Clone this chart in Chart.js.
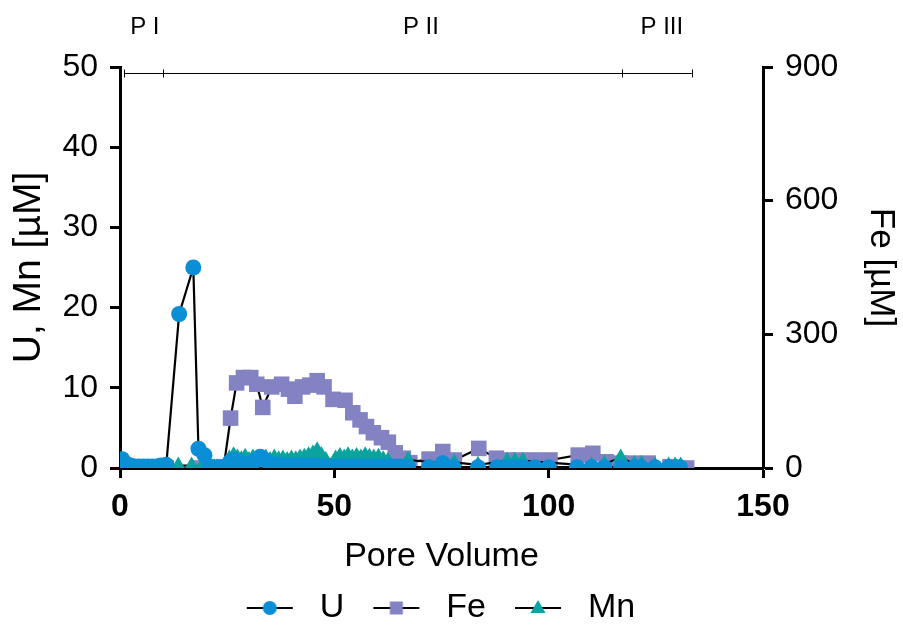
<!DOCTYPE html>
<html>
<head>
<meta charset="utf-8">
<script src="https://cdn.jsdelivr.net/npm/chart.js@4.4.0/dist/chart.umd.min.js"></script>
<style>
  html, body { margin: 0; padding: 0; background: #fff; }
</style>
</head>
<body>
<canvas id="chartPV" width="903" height="627"></canvas>
<script>
// pore volume vs concentration; U and Mn on left axis, Fe on right axis (all µM)
const uPV = [0.5, 1.5, 2.5, 3.5, 4.5, 5.5, 6.5, 7.5, 8.5, 9.5, 10.8,
  13.8, 17.1, 18.3, 19.7, 21.0, 22.6, 24.0,
  25.7, 26.8, 28.0, 29.2, 30.3, 31.5, 32.7, 33.8, 35.0, 36.2, 37.3, 38.5, 39.7, 40.8, 42.0, 43.2, 44.3, 45.5, 46.7, 47.8,
  49.8, 51.0, 52.2, 53.4, 54.6, 55.8, 57.0, 58.2, 59.4, 60.6, 61.8, 63.0, 64.2, 65.4, 67.2,
  72.1, 75.3, 77.7, 83.5, 88.0, 90.3, 92.1, 94.0, 96.8, 100.0, 106.6, 110.0, 113.0, 116.9, 120.0, 121.5, 124.8, 128.0, 130.6];
const uVal = [1.1, 0.5, 0.3, 0.2, 0.2, 0.2, 0.2, 0.2, 0.2, 0.3, 0.4,
  19.2, 25.0, 2.4, 1.6, 0.2, 0.1, 0.1,
  0.8, 1.0, 0.7, 0.5, 0.4, 0.9, 1.4, 1.0, 0.6, 0.4, 0.4, 0.3, 0.3, 0.3, 0.3, 0.3, 0.3, 0.3, 0.2, 0.2,
  0.2, 0.2, 0.2, 0.2, 0.2, 0.2, 0.2, 0.2, 0.2, 0.2, 0.2, 0.2, 0.2, 0.2, 0.1,
  0.1, 0.6, 0.1, 0.1, 0.1, 0.1, 0.1, 0.1, 0.1, 0.1, 0.1, 0.1, 0.1, 0.1, 0.1, 0.1, 0.1, 0.1, 0.1];

const fePV = [0.5, 5.0, 10.8, 18.0, 24.2,
  25.8, 27.2, 28.8, 30.5, 31.9, 33.3, 35.4, 37.7, 39.3, 40.8, 42.6, 44.3, 46.0, 47.6,
  49.7, 52.5, 54.3, 56.0, 57.5, 59.1, 61.0, 62.6, 64.2, 66.1, 67.6,
  72.1, 75.3, 78.0, 83.7, 87.8, 90.3, 93.3, 96.8, 100.3, 106.9, 110.3, 113.4, 116.6, 119.7, 123.2, 128.3, 132.2];
const feVal = [2, 0, 0, 0, 3,
  112, 191, 203, 203, 188, 136, 182, 188, 177, 161, 182, 186, 196, 182,
  154, 152, 124, 108, 93, 79, 68, 58, 34, 22, 12,
  20, 37, 18, 44, 22, 18, 18, 18, 18, 29, 33, 14, 11, 11, 11, 3, 0];

const mnPV = [0.3, 1.5, 3.0, 5.0, 7.0, 9.0, 11.0, 13.6, 16.7, 19.0, 22.0,
  25.5, 26.5, 27.4, 28.3, 29.2, 30.1, 31.0, 32.0, 33.0, 34.0, 35.0, 36.0, 37.0, 38.0, 39.0, 40.0, 41.0, 42.0, 43.0, 44.0, 45.0, 46.0, 47.0, 48.0,
  50.3, 51.3, 52.3, 53.2, 54.2, 55.2, 56.2, 57.2, 58.2, 59.2, 60.3, 61.4, 62.5,
  67.2, 75.3, 78.0, 83.5, 90.3, 92.1, 94.0, 110.0, 113.0, 116.8, 120.0, 121.7, 124.8, 128.0, 129.5, 130.8];
const mnVal = [0.3, 0.1, 0.1, 0.0, 0.0, 0.0, 0.1, 0.3, 0.3, 0.1, 0.1,
  1.2, 1.6, 1.3, 1.1, 1.4, 1.0, 1.3, 1.0, 1.2, 1.3, 1.0, 1.3, 1.1, 1.2, 1.0, 1.2, 1.1, 1.3, 1.4, 1.6, 1.8, 2.2, 1.6, 1.0,
  1.2, 1.5, 1.3, 1.6, 1.3, 1.5, 1.3, 1.6, 1.4, 1.3, 1.4, 1.1, 0.9,
  1.0, 0.6, 0.7, 0.4, 0.9, 0.9, 0.9, 0.3, 0.5, 1.3, 0.5, 0.5, 0.3, 0.3, 0.3, 0.3];

// flow periods along the top
const periodBounds = [1, 10, 117, 133.4];
const periodLabels = ['P I', 'P II', 'P III'];
const periodLabelPos = [5.8, 70.2, 126.4];

const xTicks = [0, 50, 100, 150];
const leftTicks = [0, 10, 20, 30, 40, 50];
const rightTicks = [0, 300, 600, 900];

const FONT = '"Liberation Sans", Arial, sans-serif';
const colU = '#0a8fd6';
const colFe = '#8383c4';
const colMn = '#0aa3a0';

Chart.defaults.font.family = FONT;
Chart.defaults.color = '#000';

const pts = (xs, ys) => xs.map((x, i) => ({ x: x, y: ys[i] }));

// legend symbol: black line with the coloured marker on it
function legendIcon(color, shape) {
  const c = document.createElement('canvas');
  c.width = 81; c.height = 22;
  const g = c.getContext('2d');
  g.strokeStyle = '#000';
  g.lineWidth = 2;
  g.beginPath(); g.moveTo(25, 11); g.lineTo(71, 11); g.stroke();
  g.fillStyle = color;
  g.beginPath();
  if (shape === 'circle') {
    g.arc(48, 11, 7, 0, Math.PI * 2);
  } else if (shape === 'rect') {
    g.rect(41.5, 4.5, 13, 13);
  } else {
    g.moveTo(48, 3); g.lineTo(55.5, 16); g.lineTo(40.5, 16); g.closePath();
  }
  g.fill();
  return c;
}

const periodPlugin = {
  id: 'periods',
  afterLayout(chart) {
    // legend row sits a little left of the plot centre
    if (chart.legend) { chart.legend.left -= 13; chart.legend.right -= 13; }
  },
  afterDraw(chart) {
    const ctx = chart.ctx;
    const xs = chart.scales.x;
    const y = chart.chartArea.top + 6.5;
    ctx.save();
    ctx.strokeStyle = '#000';
    ctx.lineWidth = 1;
    ctx.beginPath();
    ctx.moveTo(xs.getPixelForValue(periodBounds[0]), y);
    ctx.lineTo(xs.getPixelForValue(periodBounds[periodBounds.length - 1]), y);
    periodBounds.forEach(b => {
      const px = Math.round(xs.getPixelForValue(b)) + 0.5;
      ctx.moveTo(px, y - 4);
      ctx.lineTo(px, y + 4);
    });
    ctx.stroke();
    ctx.fillStyle = '#000';
    ctx.font = '24px ' + FONT;
    ctx.textAlign = 'center';
    ctx.textBaseline = 'middle';
    periodLabels.forEach((t, i) => ctx.fillText(t, xs.getPixelForValue(periodLabelPos[i]), 27));
    ctx.restore();
  }
};

const icons = [legendIcon(colU, 'circle'), legendIcon(colFe, 'rect'), legendIcon(colMn, 'triangle')];

const ctx = document.getElementById('chartPV').getContext('2d');
const chartPV = new Chart(ctx, {
  type: 'line',
  data: {
    datasets: [{
      label: 'U',
      data: pts(uPV, uVal),
      yAxisID: 'y',
      borderColor: '#000',
      borderWidth: 2.2,
      pointStyle: 'circle',
      pointRadius: 8,
      pointBackgroundColor: colU,
      pointBorderColor: colU,
      pointBorderWidth: 0,
      order: 0
    }, {
      label: 'Fe',
      data: pts(fePV, feVal),
      yAxisID: 'y1',
      borderColor: '#000',
      borderWidth: 2.2,
      pointStyle: 'rect',
      pointRadius: 11,
      pointBackgroundColor: colFe,
      pointBorderColor: colFe,
      pointBorderWidth: 0,
      order: 2
    }, {
      label: 'Mn',
      data: pts(mnPV, mnVal),
      yAxisID: 'y',
      borderColor: '#000',
      borderWidth: 2.2,
      pointStyle: 'triangle',
      pointRadius: 9,
      pointBackgroundColor: colMn,
      pointBorderColor: colMn,
      pointBorderWidth: 0,
      order: 1
    }]
  },
  options: {
    responsive: false,
    animation: false,
    layout: { padding: { top: 67, left: 0, right: 0, bottom: -8 }, autoPadding: false },
    plugins: {
      tooltip: { enabled: false },
      legend: {
        position: 'bottom',
        fullSize: false,
        labels: {
          usePointStyle: true,
          pointStyleWidth: 81,
          padding: 4,
          color: '#000',
          font: { size: 34 },
          sort: (a, b) => a.datasetIndex - b.datasetIndex,
          generateLabels(chart) {
            const items = Chart.defaults.plugins.legend.labels.generateLabels(chart);
            items.forEach(it => { it.pointStyle = icons[it.datasetIndex]; });
            return items;
          }
        }
      }
    },
    scales: {
      x: {
        type: 'linear',
        min: 0, max: 150,
        afterBuildTicks(s) { s.ticks = xTicks.map(v => ({ value: v })); },
        ticks: { font: { size: 32, weight: 'bold' }, padding: 10, color: '#000' },
        grid: { drawOnChartArea: false, tickLength: 10, tickWidth: 3, color: '#000' },
        border: { width: 3, color: '#000' },
        title: { display: true, text: 'Pore Volume', font: { size: 34 }, padding: { top: 0, bottom: 10 } },
        afterFit(s) { s.height = 119; }
      },
      y: {
        position: 'left',
        min: 0, max: 50,
        afterBuildTicks(s) { s.ticks = leftTicks.map(v => ({ value: v })); },
        ticks: { font: { size: 32 }, padding: 12, color: '#000' },
        grid: { drawOnChartArea: false, tickLength: 10, tickWidth: 3, color: '#000' },
        border: { width: 3, color: '#000' },
        title: { display: true, text: 'U, Mn [µM]', font: { size: 39 }, padding: { top: 6, bottom: 0 } },
        afterFit(s) { s.width = 120; }
      },
      y1: {
        position: 'right',
        min: 0, max: 900,
        afterBuildTicks(s) { s.ticks = rightTicks.map(v => ({ value: v })); },
        ticks: { font: { size: 32 }, padding: 12, color: '#000' },
        grid: { drawOnChartArea: false, tickLength: 10, tickWidth: 3, color: '#000' },
        border: { width: 3, color: '#000' },
        title: { display: true, text: 'Fe [µM]', font: { size: 35 }, padding: { top: 1, bottom: 0 } },
        afterFit(s) { s.width = 140; }
      }
    }
  },
  plugins: [periodPlugin]
});
</script>
</body>
</html>
